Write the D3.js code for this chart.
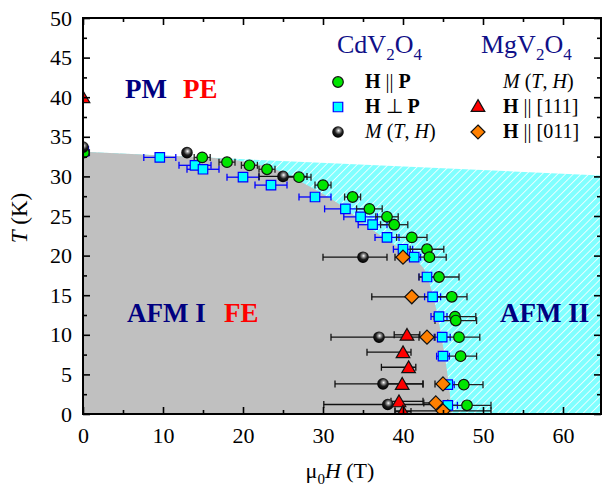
<!DOCTYPE html>
<html><head><meta charset="utf-8">
<script src="https://cdn.jsdelivr.net/npm/d3@7"></script>
<style>body{margin:0;background:#fff}svg{display:block;font-family:"Liberation Serif","Times New Roman",serif}</style>
</head><body>
<svg id="c" width="602" height="491"></svg>
<script>
// ---------- data ----------
const xTickValues = [0, 10, 20, 30, 40, 50, 60];
const xMinorValues = [5, 15, 25, 35, 45, 55];
const yTickValues = [0, 5, 10, 15, 20, 25, 30, 35, 40, 45, 50];
const yMinorValues = [2.5, 7.5, 12.5, 17.5, 22.5, 27.5, 32.5, 37.5, 42.5, 47.5];

// phase boundaries (H in T, T in K)
const pmLine = [[0, 33.1], [65, 30.1]];
const afmCurve = [[16, 32.35], [20, 31.9], [24, 30.9], [28, 28.9], [32, 26.5], [36, 23.4], [40, 20.6], [42.5, 18.5], [43.6, 15.5], [44.4, 12], [45.1, 8], [45.7, 4], [46.1, 0]];

// CdV2O4, H || P (green circles)
const greenH = [0.1, 14.9, 18.0, 20.8, 23.0, 27.0, 30.0, 33.7, 35.8, 38.0, 38.9, 41.1, 43.0, 43.3, 44.5, 46.1, 46.5, 46.6, 47.0, 47.2, 47.6, 48.0];
const greenT = [33.0, 32.4, 31.8, 31.4, 30.9, 29.9, 28.9, 27.4, 25.9, 24.9, 23.9, 22.3, 20.8, 19.8, 17.3, 14.8, 12.3, 11.8, 9.7, 7.3, 3.7, 1.1];
const greenErr = [0.7, 1, 1, 1, 1, 1.5, 1, 1, 1.6, 1.4, 1.7, 1.9, 2.1, 2.1, 2.5, 1.9, 2.6, 2.6, 2.6, 2.0, 2.4, 3.0];

// CdV2O4, H perp P (cyan squares)
const sqH = [0.1, 9.6, 14.0, 15.0, 20.0, 23.5, 29.0, 32.8, 34.7, 36.2, 38.0, 40.0, 41.4, 43.0, 43.7, 44.5, 44.9, 45.0, 45.6, 45.6];
const sqT = [33.2, 32.4, 31.4, 30.9, 29.9, 28.9, 27.4, 25.9, 24.9, 23.9, 22.3, 20.8, 19.8, 17.3, 14.8, 12.3, 9.7, 7.3, 3.7, 1.1];
const sqErr = [0.5, 2, 2, 2, 2, 2, 2, 2.6, 2.1, 1.8, 1.5, 1.2, 0.8, 1, 1, 1, 1, 0.8, 0.8, 1.2];

// CdV2O4, M(T,H) (black spheres)
const blkH = [0, 13.0, 25.0, 35.0, 37.0, 37.5, 38.1];
const blkT = [33.7, 33.0, 30.0, 19.8, 9.7, 3.8, 1.2];
const blkErrL = [0, 0, 3, 5, 6, 6, 8];
const blkErrR = [0, 0, 3, 3, 6, 5, 6];

// MgV2O4, H || [111] (red triangles)
const triH = [0, 40.5, 40.0, 40.7, 39.9, 39.5, 40.0];
const triT = [40.0, 10.0, 7.8, 5.9, 3.8, 1.6, 0.3];
const triErrL = [0, 1.6, 4.5, 3.4, 2.6, 1, 1];
const triErrR = [0, 1.6, 1.0, 0.9, 2.6, 3, 1];

// MgV2O4, H || [011] (orange diamonds)
const diaH = [40.0, 41.1, 43.0, 45.0, 44.1, 45.0];
const diaT = [19.8, 14.8, 9.7, 3.8, 1.4, 0.4];
const diaErr = [1, 5, 1, 1, 1.5, 6];

// ---------- chart ----------
const svg = d3.select("#c");
const L = 83, R = 601, T0 = 18, B = 414;
const x = d3.scaleLinear().domain([0, 64.75]).range([L, R]);
const y = d3.scaleLinear().domain([0, 50]).range([B, T0]);

const defs = svg.append("defs");
defs.append("clipPath").attr("id", "clip").append("rect")
  .attr("x", L).attr("y", T0).attr("width", R - L).attr("height", B - T0);
const pat = defs.append("pattern").attr("id", "hatch").attr("patternUnits", "userSpaceOnUse")
  .attr("width", 5.5).attr("height", 5.5).attr("patternTransform", "rotate(45)");
pat.append("rect").attr("width", 5.5).attr("height", 5.5).attr("fill", "#80ffff");
pat.append("line").attr("x1", 0).attr("y1", 0).attr("x2", 0).attr("y2", 5.5)
  .attr("stroke", "#fff").attr("stroke-width", 1.6);
const grad = defs.append("radialGradient").attr("id", "sph").attr("cx", "55%").attr("cy", "38%").attr("r", "60%");
grad.append("stop").attr("offset", "0%").attr("stop-color", "#ffffff");
grad.append("stop").attr("offset", "22%").attr("stop-color", "#9a9a9a");
grad.append("stop").attr("offset", "55%").attr("stop-color", "#1e1e1e");
grad.append("stop").attr("offset", "100%").attr("stop-color", "#000");

const g = svg.append("g").attr("clip-path", "url(#clip)");

// cyan hatched region (AFM II) under the PM line
const cyanPts = [[0, 0], pmLine[0], pmLine[1], [65, 0]];
g.append("path")
  .attr("d", d3.line().x(d => x(d[0])).y(d => y(d[1]))(cyanPts) + "Z")
  .attr("fill", "url(#hatch)");

// grey region (AFM I)
const curvePath = d3.line().x(d => x(d[0])).y(d => y(d[1])).curve(d3.curveCatmullRom)(afmCurve);
const greyD = `M${x(0)},${y(0)}L${x(pmLine[0][0])},${y(pmLine[0][1])}` + "L" + curvePath.slice(1) + "Z";
g.append("path").attr("d", greyD).attr("fill", "#c0c0c0");

// error bars
function errBars(H, Tv, eL, eR, color) {
  const gg = g.append("g").attr("stroke", color).attr("stroke-width", 1.3).attr("fill", "none");
  H.forEach((h, i) => {
    const l = eL[i], r = eR[i];
    if (!l && !r) return;
    const yy = y(Tv[i]);
    gg.append("line").attr("x1", x(h - l)).attr("x2", x(h + r)).attr("y1", yy).attr("y2", yy);
    gg.append("line").attr("x1", x(h - l)).attr("x2", x(h - l)).attr("y1", yy - 3.5).attr("y2", yy + 3.5);
    gg.append("line").attr("x1", x(h + r)).attr("x2", x(h + r)).attr("y1", yy - 3.5).attr("y2", yy + 3.5);
  });
}
errBars(sqH, sqT, sqErr, sqErr, "#0000ff");
errBars(greenH, greenT, greenErr, greenErr, "#222");
errBars(blkH, blkT, blkErrL, blkErrR, "#111");
errBars(triH, triT, triErrL, triErrR, "#111");
errBars(diaH, diaT, diaErr, diaErr, "#111");

// markers
const sym = {
  circle: d3.symbol().type(d3.symbolCircle).size(88)(),
  square: d3.symbol().type(d3.symbolSquare).size(90)(),
  sphere: d3.symbol().type(d3.symbolCircle).size(105)(),
  tri: d3.symbol().type(d3.symbolTriangle).size(80)(),
  dia: "M0,-7L7,0L0,7L-7,0Z"
};
function markers(H, Tv, path, fill, stroke, dy) {
  g.append("g").selectAll("path").data(H).join("path")
    .attr("transform", (h, i) => `translate(${x(h)},${y(Tv[i]) + (dy || 0)})`)
    .attr("d", path).attr("fill", fill).attr("stroke", stroke).attr("stroke-width", 1.2);
}
markers(sqH, sqT, sym.square, "#00ffff", "#0000ff");
markers(greenH, greenT, sym.circle, "#00e600", "#111");
markers(blkH, blkT, sym.sphere, "url(#sph)", "none");
markers(triH, triT, sym.tri, "#ff0000", "#111", 1.5);
markers(diaH, diaT, sym.dia, "#ff8000", "#111");

// axes
function styleAxis(sel) { sel.select(".domain").remove(); sel.selectAll("line").attr("stroke", "#000").attr("stroke-width", 1.6); sel.selectAll("text").attr("font-size", 22).attr("fill", "#000").attr("font-family", "Liberation Serif"); }
svg.append("g").attr("transform", `translate(0,${B})`)
  .call(d3.axisBottom(x).tickValues(xTickValues).tickSize(-7).tickPadding(13).tickFormat(d3.format("d"))).call(styleAxis);
svg.append("g").attr("transform", `translate(0,${B})`)
  .call(d3.axisBottom(x).tickValues(xMinorValues).tickSize(-4).tickFormat("")).call(styleAxis);
svg.append("g").attr("transform", `translate(0,${T0})`)
  .call(d3.axisTop(x).tickValues(xTickValues).tickSize(-7).tickFormat("")).call(styleAxis);
svg.append("g").attr("transform", `translate(0,${T0})`)
  .call(d3.axisTop(x).tickValues(xMinorValues).tickSize(-4).tickFormat("")).call(styleAxis);
svg.append("g").attr("transform", `translate(${L},0)`)
  .call(d3.axisLeft(y).tickValues(yTickValues).tickSize(-7).tickPadding(11).tickFormat(d3.format("d"))).call(styleAxis);
svg.append("g").attr("transform", `translate(${L},0)`)
  .call(d3.axisLeft(y).tickValues(yMinorValues).tickSize(-4).tickFormat("")).call(styleAxis);
svg.append("g").attr("transform", `translate(${R},0)`)
  .call(d3.axisRight(y).tickValues(yTickValues).tickSize(-7).tickFormat("")).call(styleAxis);
svg.append("g").attr("transform", `translate(${R},0)`)
  .call(d3.axisRight(y).tickValues(yMinorValues).tickSize(-4).tickFormat("")).call(styleAxis);
svg.append("rect").attr("x", L).attr("y", T0).attr("width", R - L).attr("height", B - T0)
  .attr("fill", "none").attr("stroke", "#000").attr("stroke-width", 2);

// axis titles
const xt = svg.append("text").attr("x", 340).attr("y", 478).attr("text-anchor", "middle").attr("font-size", 22);
xt.append("tspan").text("μ");
xt.append("tspan").text("0").attr("font-size", 15).attr("dy", 6);
xt.append("tspan").text("H").attr("font-style", "italic").attr("dy", -6);
xt.append("tspan").text(" (T)");
const yt = svg.append("text").attr("transform", "translate(27,218) rotate(-90)").attr("text-anchor", "middle").attr("font-size", 23);
yt.append("tspan").text("T").attr("font-style", "italic");
yt.append("tspan").text(" (K)");

// phase labels
function lab(txt, xx, yy, col) {
  svg.append("text").attr("x", xx).attr("y", yy).attr("font-size", 27).attr("font-weight", "bold").attr("fill", col).text(txt);
}
lab("PM", 125, 98, "#000080");
lab("PE", 183, 98, "#ff0000");
lab("AFM I", 127, 322, "#000080");
lab("FE", 224, 322, "#ff0000");
lab("AFM II", 500, 322, "#000080");

// legend titles
function formula(parts, xx, yy) {
  const t = svg.append("text").attr("x", xx).attr("y", yy).attr("font-size", 26).attr("fill", "#101088");
  parts.forEach(p => {
    const s = t.append("tspan").text(p[0]);
    if (p[1] === "sub") s.attr("font-size", 17).attr("dy", 7);
    if (p[1] === "up") s.attr("dy", -7);
  });
}
formula([["CdV"], ["2", "sub"], ["O", "up"], ["4", "sub"]], 337, 53);
formula([["MgV"], ["2", "sub"], ["O", "up"], ["4", "sub"]], 481, 53);

// legend entries
function legText(parts, xx, yy) {
  const t = svg.append("text").attr("x", xx).attr("y", yy).attr("font-size", 20).attr("fill", "#000");
  parts.forEach(p => {
    const s = t.append("tspan").text(p[0]);
    if (p[1] === "b") s.attr("font-weight", "bold");
    if (p[1] === "i") s.attr("font-style", "italic");
  });
}
function legSym(path, fill, stroke, xx, yy) {
  svg.append("path").attr("d", path).attr("transform", `translate(${xx},${yy})`)
    .attr("fill", fill).attr("stroke", stroke).attr("stroke-width", 1.2);
}
legSym(sym.circle, "#00e600", "#111", 338, 82);
legText([["H", "b"], [" || "], ["P", "b"]], 365, 88);
legSym(sym.square, "#00ffff", "#0000ff", 338, 107);
legText([["H", "b"], [" ⊥ "], ["P", "b"]], 365, 113);
legSym(sym.sphere, "url(#sph)", "none", 338, 132);
legText([["M", "i"], [" ("], ["T", "i"], [", "], ["H", "i"], [")"]], 365, 138);
legText([["M", "i"], [" ("], ["T", "i"], [", "], ["H", "i"], [")"]], 503, 88);
legSym(sym.tri, "#ff0000", "#111", 478, 107.5);
legText([["H", "b"], [" || [111]"]], 503, 113);
legSym(sym.dia, "#ff8000", "#111", 478, 132);
legText([["H", "b"], [" || [011]"]], 503, 138);
</script>
</body></html>
